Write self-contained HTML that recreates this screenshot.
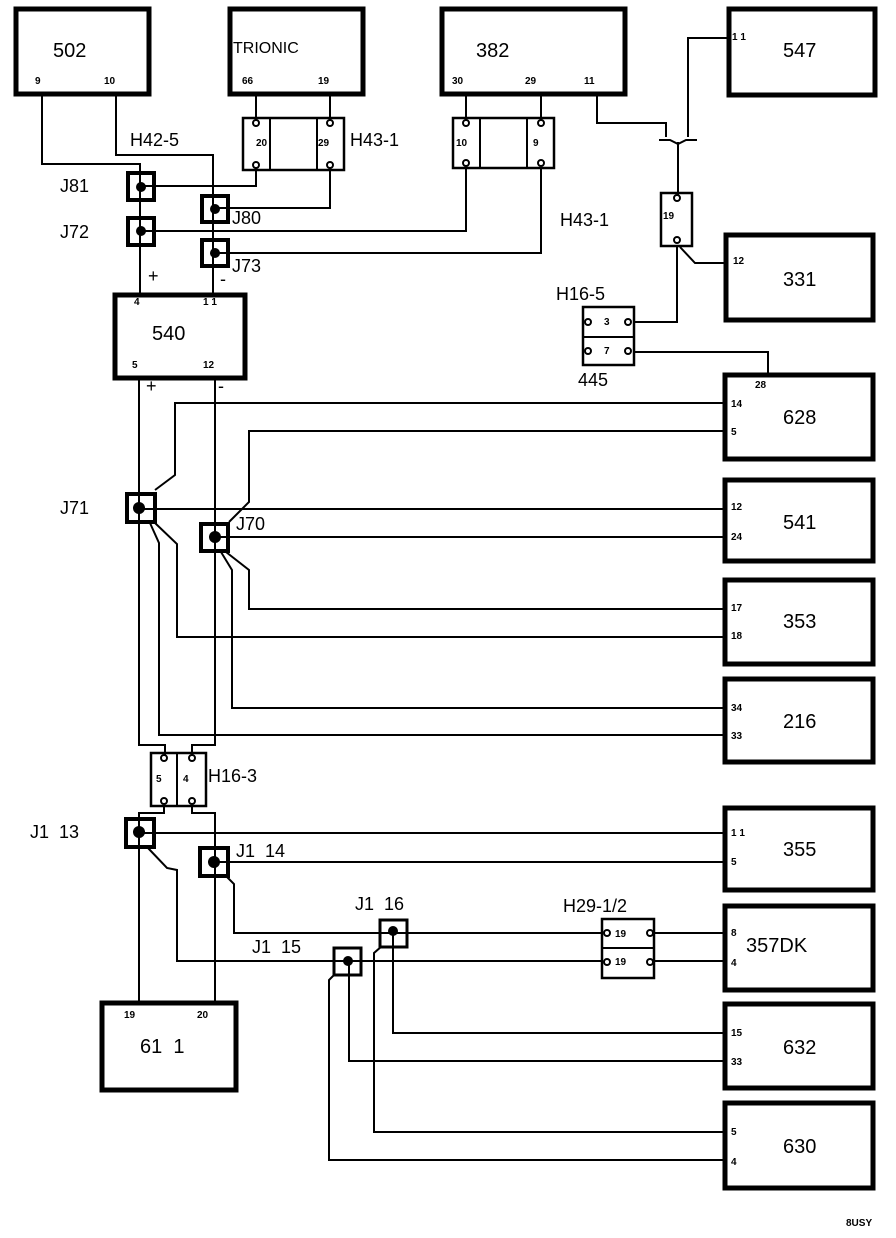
<!DOCTYPE html>
<html><head><meta charset="utf-8"><style>
html,body{margin:0;padding:0;background:#fff;}
svg{display:block;}
text{font-family:"Liberation Sans",sans-serif;fill:#000;white-space:pre;}
.l{font-size:18px;}
.b{font-size:20px;}
.p{font-size:10px;font-weight:bold;}
</style></head><body>
<svg width="896" height="1238" viewBox="0 0 896 1238" xmlns="http://www.w3.org/2000/svg" xml:space="preserve">
<g fill="none" stroke="#000" stroke-width="5">
<rect x="16" y="9" width="133" height="85"/>
<rect x="230" y="9" width="133" height="85"/>
<rect x="442" y="9" width="183" height="85"/>
<rect x="729" y="9" width="146" height="86"/>
<rect x="726" y="235" width="147" height="85"/>
<rect x="115" y="295" width="130" height="83"/>
<rect x="725" y="375" width="148" height="84"/>
<rect x="725" y="480" width="148" height="81"/>
<rect x="725" y="580" width="148" height="84"/>
<rect x="725" y="679" width="148" height="83"/>
<rect x="725" y="808" width="148" height="82"/>
<rect x="725" y="906" width="148" height="84"/>
<rect x="725" y="1004" width="148" height="84"/>
<rect x="725" y="1103" width="148" height="85"/>
<rect x="102" y="1003" width="134" height="87"/>
</g>
<g fill="none" stroke="#000" stroke-width="2">
<polyline points="42,96 42,164 140,164 140,295"/>
<polyline points="116,96 116,155 213,155 213,295"/>
<line x1="256" y1="96" x2="256" y2="120"/>
<line x1="330" y1="96" x2="330" y2="120"/>
<polyline points="140,186 256,186 256,168"/>
<polyline points="215,208 330,208 330,168"/>
<line x1="466" y1="96" x2="466" y2="120"/>
<line x1="541" y1="96" x2="541" y2="120"/>
<polyline points="140,231 466,231 466,168"/>
<polyline points="215,253 541,253 541,168"/>
<polyline points="597,96 597,123 666,123 666,137"/>
<polyline points="688,137 688,38 729,38"/>
<polyline points="659,140 670,140 678,144 686,140 697,140"/>
<line x1="678" y1="142" x2="678" y2="195"/>
<polyline points="677,246 677,322 634,322"/>
<polyline points="680,247 695,263 726,263"/>
<polyline points="634,352 768,352 768,375"/>
<polyline points="139,378 139,745 165,745 165,755"/>
<polyline points="215,378 215,745 192,745 192,755"/>
<line x1="139" y1="509" x2="725" y2="509"/>
<polyline points="155,490 175,475 175,403 725,403"/>
<polyline points="150,523 159,543 159,735 725,735"/>
<polyline points="155,523 177,544 177,637 725,637"/>
<line x1="215" y1="537" x2="725" y2="537"/>
<polyline points="229,522 249,502 249,431 725,431"/>
<polyline points="221,552 232,570 232,708 725,708"/>
<polyline points="226,552 249,570 249,609 725,609"/>
<polyline points="164,806 164,813 139,813 139,1003"/>
<polyline points="192,806 192,813 215,813 215,1003"/>
<line x1="139" y1="833" x2="725" y2="833"/>
<line x1="215" y1="862" x2="725" y2="862"/>
<polyline points="148,848 167,868 177,870 177,961 603,961"/>
<polyline points="227,877 234,884 234,933 603,933"/>
<line x1="654" y1="933" x2="725" y2="933"/>
<line x1="654" y1="961" x2="725" y2="961"/>
<polyline points="393,931 393,1033 725,1033"/>
<polyline points="382,946 374,953 374,1132 725,1132"/>
<polyline points="349,961 349,1061 725,1061"/>
<polyline points="335,974 329,980 329,1160 725,1160"/>
<rect x="243" y="118" width="101" height="52" stroke-width="2.5"/>
<line x1="270" y1="118" x2="270" y2="170"/><line x1="317" y1="118" x2="317" y2="170"/>
<rect x="453" y="118" width="101" height="50" stroke-width="2.5"/>
<line x1="480" y1="118" x2="480" y2="168"/><line x1="527" y1="118" x2="527" y2="168"/>
<rect x="661" y="193" width="31" height="53" stroke-width="2.5"/>
<rect x="583" y="307" width="51" height="58" stroke-width="2.5"/>
<line x1="583" y1="337" x2="634" y2="337"/>
<rect x="151" y="753" width="55" height="53" stroke-width="2.5"/>
<line x1="177" y1="753" x2="177" y2="806"/>
<rect x="602" y="919" width="52" height="59" stroke-width="2.5"/>
<line x1="602" y1="948" x2="654" y2="948"/>
</g>
<g fill="#fff" stroke="#000" stroke-width="2">
<circle cx="256" cy="123" r="3"/><circle cx="330" cy="123" r="3"/><circle cx="256" cy="165" r="3"/><circle cx="330" cy="165" r="3"/>
<circle cx="466" cy="123" r="3"/><circle cx="541" cy="123" r="3"/><circle cx="466" cy="163" r="3"/><circle cx="541" cy="163" r="3"/>
<circle cx="677" cy="198" r="3"/><circle cx="677" cy="240" r="3"/>
<circle cx="588" cy="322" r="3"/><circle cx="628" cy="322" r="3"/><circle cx="588" cy="351" r="3"/><circle cx="628" cy="351" r="3"/>
<circle cx="164" cy="758" r="3"/><circle cx="192" cy="758" r="3"/><circle cx="164" cy="801" r="3"/><circle cx="192" cy="801" r="3"/>
<circle cx="607" cy="933" r="3"/><circle cx="650" cy="933" r="3"/><circle cx="607" cy="962" r="3"/><circle cx="650" cy="962" r="3"/>
</g>
<g fill="none" stroke="#000" stroke-width="4">
<rect x="128" y="173" width="26" height="27"/>
<rect x="128" y="218" width="26" height="27"/>
<rect x="202" y="196" width="26" height="26"/>
<rect x="202" y="240" width="26" height="26"/>
<rect x="127" y="494" width="28" height="28"/>
<rect x="201" y="524" width="27" height="27"/>
<rect x="126" y="819" width="28" height="28"/>
<rect x="200" y="848" width="28" height="28"/>
</g>
<g fill="none" stroke="#000" stroke-width="3">
<rect x="380" y="920" width="27" height="27"/>
<rect x="334" y="948" width="27" height="27"/>
</g>
<g fill="#000">
<circle cx="141" cy="187" r="5"/><circle cx="141" cy="231" r="5"/><circle cx="215" cy="209" r="5"/><circle cx="215" cy="253" r="5"/>
<circle cx="139" cy="508" r="6"/><circle cx="215" cy="537" r="6"/><circle cx="139" cy="832" r="6"/><circle cx="214" cy="862" r="6"/>
<circle cx="393" cy="931" r="5"/><circle cx="348" cy="961" r="5"/>
</g>
<text class="b" x="53" y="57">502</text>
<text x="233" y="53" style="font-size:16px">TRIONIC</text>
<text class="b" x="476" y="57">382</text>
<text class="b" x="783" y="57">547</text>
<text class="b" x="783" y="286">331</text>
<text class="b" x="152" y="340">540</text>
<text class="b" x="783" y="424">628</text>
<text class="b" x="783" y="529">541</text>
<text class="b" x="783" y="628">353</text>
<text class="b" x="783" y="728">216</text>
<text class="b" x="783" y="856">355</text>
<text class="b" x="746" y="952">357DK</text>
<text class="b" x="783" y="1054">632</text>
<text class="b" x="783" y="1153">630</text>
<text class="b" x="140" y="1053">61  1</text>
<text class="l" x="130" y="146">H42-5</text>
<text class="l" x="350" y="146">H43-1</text>
<text class="l" x="560" y="226">H43-1</text>
<text class="l" x="556" y="300">H16-5</text>
<text class="l" x="578" y="386">445</text>
<text class="l" x="208" y="782">H16-3</text>
<text class="l" x="563" y="912">H29-1/2</text>
<text class="l" x="60" y="192">J81</text>
<text class="l" x="60" y="238">J72</text>
<text class="l" x="232" y="224">J80</text>
<text class="l" x="232" y="272">J73</text>
<text class="l" x="60" y="514">J71</text>
<text class="l" x="236" y="530">J70</text>
<text class="l" x="30" y="838">J1  13</text>
<text class="l" x="236" y="857">J1  14</text>
<text class="l" x="355" y="910">J1  16</text>
<text class="l" x="252" y="953">J1  15</text>
<text class="l" x="148" y="282">+</text><text class="l" x="220" y="285">-</text>
<text class="l" x="146" y="392">+</text><text class="l" x="218" y="392">-</text>
<text class="p" x="35" y="84">9</text><text class="p" x="104" y="84">10</text>
<text class="p" x="242" y="84">66</text><text class="p" x="318" y="84">19</text>
<text class="p" x="452" y="84">30</text><text class="p" x="525" y="84">29</text><text class="p" x="584" y="84">11</text>
<text class="p" x="732" y="40">1 1</text>
<text class="p" x="733" y="264">12</text>
<text class="p" x="134" y="305">4</text><text class="p" x="203" y="305">1 1</text>
<text class="p" x="132" y="368">5</text><text class="p" x="203" y="368">12</text>
<text class="p" x="256" y="146">20</text><text class="p" x="318" y="146">29</text>
<text class="p" x="456" y="146">10</text><text class="p" x="533" y="146">9</text>
<text class="p" x="663" y="219">19</text>
<text class="p" x="604" y="325">3</text><text class="p" x="604" y="354">7</text>
<text class="p" x="156" y="782">5</text><text class="p" x="183" y="782">4</text>
<text class="p" x="615" y="937">19</text><text class="p" x="615" y="965">19</text>
<text class="p" x="124" y="1018">19</text><text class="p" x="197" y="1018">20</text>
<text class="p" x="755" y="388">28</text>
<text class="p" x="731" y="407">14</text><text class="p" x="731" y="435">5</text>
<text class="p" x="731" y="510">12</text><text class="p" x="731" y="540">24</text>
<text class="p" x="731" y="611">17</text><text class="p" x="731" y="639">18</text>
<text class="p" x="731" y="711">34</text><text class="p" x="731" y="739">33</text>
<text class="p" x="731" y="836">1 1</text><text class="p" x="731" y="865">5</text>
<text class="p" x="731" y="936">8</text><text class="p" x="731" y="966">4</text>
<text class="p" x="731" y="1036">15</text><text class="p" x="731" y="1065">33</text>
<text class="p" x="731" y="1135">5</text><text class="p" x="731" y="1165">4</text>
<text class="p" x="846" y="1226">8USY</text>
</svg>
</body></html>
